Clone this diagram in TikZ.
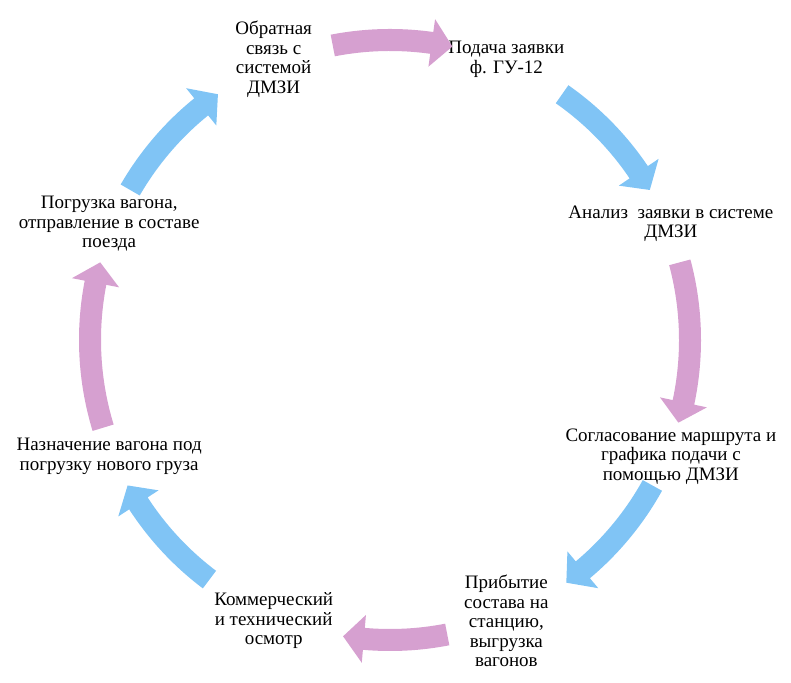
\documentclass[tikz,border=0pt]{standalone}
\usepackage{fontspec}
\setmainfont{Liberation Serif}

\definecolor{cycpink}{RGB}{214,160,208}
\definecolor{cycblue}{RGB}{128,196,245}

% curved block arrow on the ring: #1 tail angle, #2 tip angle, #3 colour
\newcommand{\cycarrow}[3]{%
  \pgfmathsetmacro{\hb}{#2+4}
  \fill[#3] (#1:311) arc[start angle=#1, end angle=\hb, radius=311]
    -- (\hb:324) -- (#2:300) -- (\hb:276) -- (\hb:289)
    arc[start angle=\hb, end angle=#1, radius=289] -- cycle;}

\begin{document}
\begin{tikzpicture}[x=1pt,y=1pt,
  step text/.style={align=center,inner sep=1pt,
    font=\fontsize{19}{19.5}\selectfont}]

\useasboundingbox (0,0) rectangle (791,682);

\begin{scope}[shift={(390,342)}]
% stages
\node[step text] (svyaz)  at (112.5:304) {Обратная\\связь с\\системой\\ДМЗИ};
\node[step text] (podacha) at (67.5:304) {Подача заявки\\ф. ГУ-12};
\node[step text] (analiz)  at (22.5:304) {Анализ\ \ заявки в системе\\ДМЗИ};
\node[step text] (soglas)  at (-22.5:304) {Согласование маршрута и\\графика подачи с\\помощью ДМЗИ};
\node[step text] (pribyt)  at (-67.5:304) {Прибытие\\состава на\\станцию,\\выгрузка\\вагонов};
\node[step text] (osmotr)  at (-112.5:304) {Коммерческий\\и технический\\осмотр};
\node[step text] (naznach) at (-157.5:304) {Назначение вагона под\\погрузку нового груза};
\node[step text] (pogruz)  at (157.5:304) {Погрузка вагона,\\отправление в составе\\поезда};

% arrows round the ring
\cycarrow{101}{78}{cycpink}
\cycarrow{55}{30}{cycblue}
\cycarrow{15}{-16}{cycpink}
\cycarrow{-29}{-54}{cycblue}
\cycarrow{-79}{-99}{cycpink}
\cycarrow{-127}{-151}{cycblue}
\cycarrow{197}{165}{cycpink}
\cycarrow{150}{125}{cycblue}
\end{scope}
\end{tikzpicture}
\end{document}
